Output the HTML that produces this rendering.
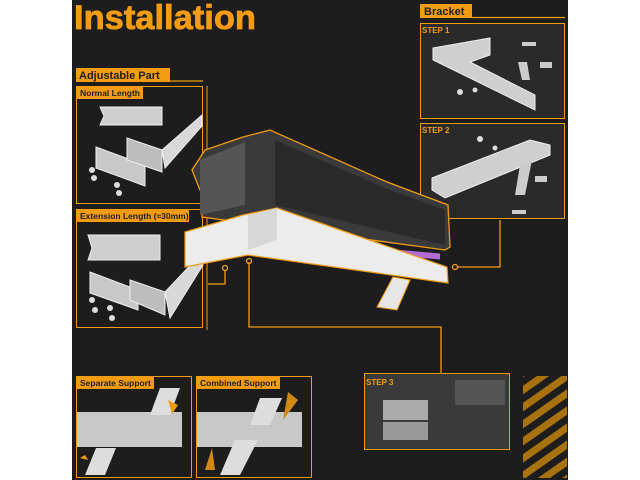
<!DOCTYPE html>
<html><head><style>
html,body{margin:0;padding:0;background:#fff;}
svg{display:block}
text{font-family:"Liberation Sans",sans-serif;font-weight:bold}
</style></head><body>
<svg width="640" height="480" viewBox="0 0 640 480" xmlns="http://www.w3.org/2000/svg">
<rect x="72" y="0" width="496" height="480" fill="#1d1d1d"/>
<text x="74" y="29" font-size="34" fill="#f39c12" textLength="182" lengthAdjust="spacingAndGlyphs" stroke="#f39c12" stroke-width="0.8">Installation</text>

<!-- Adjustable part -->
<rect x="76" y="68" width="94" height="14" fill="#f39c12"/>
<text x="79" y="79" font-size="11" fill="#1d1d1d">Adjustable Part</text>
<line x1="170" y1="81" x2="203" y2="81" stroke="#f39c12" stroke-width="1.2"/>
<rect x="76.5" y="86.5" width="126" height="117" fill="none" stroke="#f39c12" stroke-width="1"/>
<line x1="207" y1="86" x2="207" y2="330" stroke="#f39c12" stroke-width="1"/>
<rect x="77" y="87" width="66" height="12" fill="#f39c12"/>
<text x="80" y="96" font-size="8.5" fill="#1d1d1d">Normal Length</text>
<polygon points="100,107 162,107 162,125 100,125 104,116" fill="#cfcfcf" stroke="#eee"/>
<polygon points="96,147 145,165 145,186 96,168" fill="#c8c8c8" stroke="#eee"/>
<polygon points="127,138 162,150 162,172 127,160" fill="#bdbdbd" stroke="#eee"/>
<polygon points="162,150 202,115 202,126 165,168" fill="#d8d8d8" stroke="#eee"/>
<g fill="#ddd"><circle cx="92" cy="170" r="3"/><circle cx="94" cy="178" r="3"/><circle cx="117" cy="185" r="3"/><circle cx="119" cy="193" r="3"/></g>

<rect x="76.5" y="209.5" width="126" height="118" fill="none" stroke="#f39c12" stroke-width="1"/>
<rect x="77" y="210" width="112" height="12" fill="#f39c12"/>
<text x="80" y="219" font-size="8.5" fill="#1d1d1d">Extension Length (≈30mm)</text>
<polygon points="88,235 160,235 160,260 88,260 92,248" fill="#cfcfcf" stroke="#eee"/>
<polygon points="90,272 138,290 138,310 90,293" fill="#c8c8c8" stroke="#eee"/>
<polygon points="130,280 165,292 165,315 130,300" fill="#bdbdbd" stroke="#eee"/>
<polygon points="165,292 200,255 203,265 170,318" fill="#d8d8d8" stroke="#eee"/>
<g fill="#ddd"><circle cx="92" cy="300" r="3"/><circle cx="95" cy="310" r="3"/><circle cx="110" cy="308" r="3"/><circle cx="112" cy="318" r="3"/></g>

<!-- Bracket -->
<rect x="420" y="4" width="52" height="14" fill="#f39c12"/>
<text x="424" y="15" font-size="11" fill="#1d1d1d">Bracket</text>
<line x1="472" y1="17.5" x2="565" y2="17.5" stroke="#f39c12" stroke-width="1.2"/>
<rect x="420.5" y="23.5" width="144" height="95" fill="#2a2a2a" stroke="#f39c12" stroke-width="1"/>
<text x="422" y="33" font-size="8" fill="#f39c12">STEP 1</text>
<polygon points="433,48 490,38 490,55 470,62 535,95 535,110 433,60" fill="#cfcfcf" stroke="#eee"/>
<polygon points="518,62 527,62 530,80 522,80" fill="#ccc"/>
<rect x="522" y="42" width="14" height="4" fill="#ccc"/>
<rect x="540" y="62" width="12" height="6" fill="#ccc"/>
<circle cx="460" cy="92" r="3" fill="#ddd"/><circle cx="475" cy="90" r="2.5" fill="#ddd"/>
<rect x="420.5" y="123.5" width="144" height="95" fill="#2a2a2a" stroke="#f39c12" stroke-width="1"/>
<text x="422" y="133" font-size="8" fill="#f39c12">STEP 2</text>
<polygon points="432,178 530,140 550,145 550,155 445,198 432,190" fill="#cfcfcf" stroke="#eee"/>
<polygon points="520,165 532,160 525,195 515,195" fill="#ccc"/>
<rect x="512" y="210" width="14" height="4" fill="#ccc"/>
<rect x="535" y="176" width="12" height="6" fill="#ccc"/>
<circle cx="480" cy="139" r="3" fill="#ddd"/><circle cx="495" cy="148" r="2.5" fill="#ddd"/>

<g fill="none" stroke="#f39c12" stroke-width="1.3">
<polyline points="500,220 500,267 458,267"/>
<polyline points="249,262 249,327 441,327 441,373"/>
<polyline points="225,270 225,284 208,284"/>
</g>
<circle cx="455" cy="267" r="2.5" fill="none" stroke="#f39c12" stroke-width="1.3"/>
<circle cx="249" cy="261" r="2.5" fill="none" stroke="#f39c12" stroke-width="1.3"/>
<circle cx="225" cy="268" r="2.5" fill="none" stroke="#f39c12" stroke-width="1.3"/>

<!-- GPU -->
<polygon points="192,170 205,150 243,137 270,130 387,182 448,205 450,247 445,250 202,217 202,195" fill="#3a3a3a" stroke="#f39c12" stroke-width="1.3"/>
<polygon points="275,140 385,188 445,210 445,245 275,205" fill="#2a2a2a"/>
<polygon points="200,160 245,142 245,205 200,215" fill="#555"/>
<rect x="395" y="215" width="45" height="6" fill="#b36bd6" transform="skewY(5)"/>
<polygon points="185,232 243,215 277,208 447,267 448,283 377,273 248,255 185,267" fill="#ececec" stroke="#f39c12" stroke-width="1.2"/>
<polygon points="248,215 277,208 277,240 248,250" fill="#d8d8d8"/>
<polygon points="393,277 410,280 397,310 377,307" fill="#e6e6e6" stroke="#f39c12" stroke-width="1"/>

<!-- bottom boxes -->
<rect x="76.5" y="376.5" width="115" height="101" fill="none" stroke="#f39c12" stroke-width="1"/>
<rect x="77" y="377" width="77" height="12" fill="#f39c12"/>
<text x="80" y="386" font-size="8.5" fill="#1d1d1d">Separate Support</text>
<rect x="77" y="412" width="105" height="35" fill="#c8c8c8"/>
<polygon points="160,388 180,388 170,415 150,415" fill="#ddd"/>
<polygon points="96,448 116,448 105,475 85,475" fill="#ddd"/>
<polygon points="168,400 178,405 172,414" fill="#f39c12"/>
<polygon points="85,455 80,458 88,460" fill="#f39c12"/>

<rect x="196.5" y="376.5" width="115" height="101" fill="none" stroke="#f39c12" stroke-width="1"/>
<rect x="197" y="377" width="83" height="12" fill="#f39c12"/>
<text x="200" y="386" font-size="8.5" fill="#1d1d1d">Combined Support</text>
<rect x="197" y="412" width="105" height="35" fill="#c8c8c8"/>
<polygon points="260,398 282,398 270,425 250,425" fill="#ddd"/>
<polygon points="235,440 258,440 240,475 220,475" fill="#ddd"/>
<polygon points="288,392 298,400 283,420" fill="#d08a10"/>
<polygon points="212,448 215,470 205,470" fill="#d08a10"/>

<rect x="364.5" y="373.5" width="145" height="76" fill="#3a3a3a" stroke="#f39c12" stroke-width="1"/>
<text x="366" y="385" font-size="8" fill="#f39c12">STEP 3</text>
<rect x="383" y="400" width="45" height="20" fill="#aaa"/>
<rect x="383" y="422" width="45" height="18" fill="#999"/>
<rect x="455" y="380" width="50" height="25" fill="#555"/>

<defs><pattern id="st" width="14" height="14" patternUnits="userSpaceOnUse" patternTransform="rotate(-35)"><rect width="14" height="7" fill="#a8720e"/></pattern></defs>
<rect x="523" y="376" width="44" height="102" fill="url(#st)"/>
</svg>
</body></html>
